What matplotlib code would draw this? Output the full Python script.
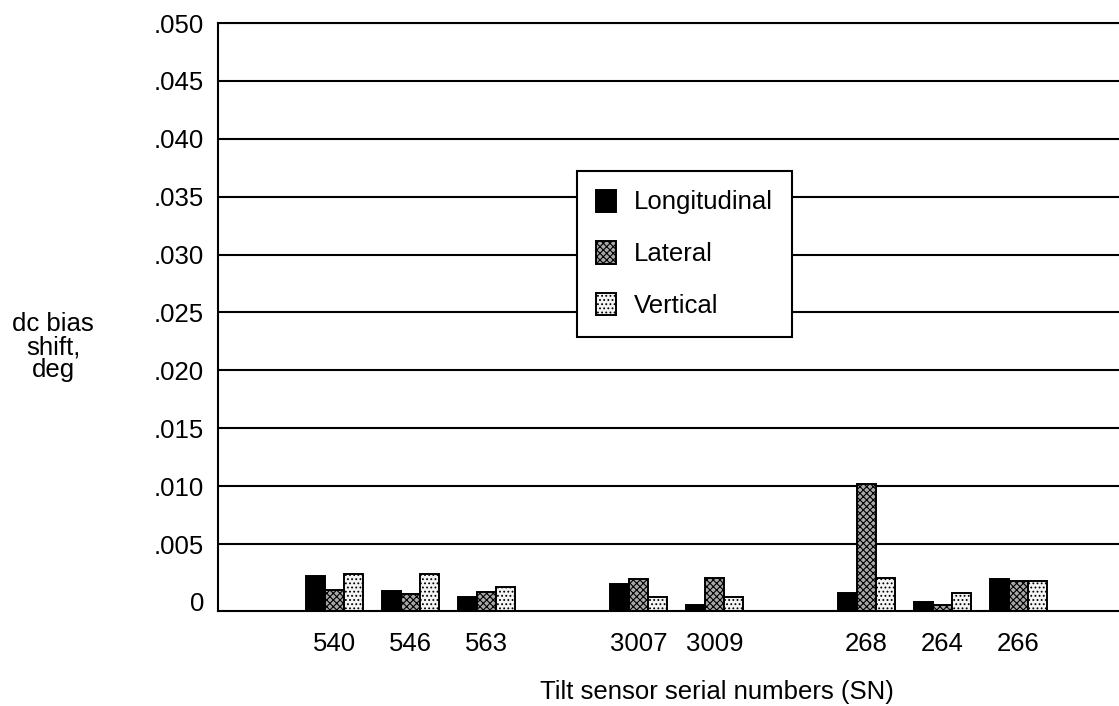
from matplotlib import pyplot as plt
from matplotlib.ticker import FuncFormatter
import numpy as np

plt.rcParams['font.family'] = ['Liberation Sans', 'DejaVu Sans']
plt.rcParams['hatch.linewidth'] = 0.8

# Tilt sensor serial numbers, in the order they are plotted.
sensors = ['540', '546', '563', '3007', '3009', '268', '264', '266']
longitudinal = [0.00305, 0.00173, 0.00124, 0.00233, 0.00049, 0.00153, 0.00075, 0.00274]
lateral = [0.00181, 0.00150, 0.00161, 0.00279, 0.00288, 0.01097, 0.00052, 0.00259]
vertical = [0.00320, 0.00320, 0.00205, 0.00118, 0.00118, 0.00288, 0.00153, 0.00259]
y_ticks = [0, 0.005, 0.010, 0.015, 0.020, 0.025, 0.030, 0.035, 0.040, 0.045, 0.050]

# Layout: groups sit on a slot grid with empty slots between sensor families.
slots = np.array([0, 1, 2, 4, 5, 7, 8, 9])
width = 0.25
base = -0.00078  # drawn baseline sits a little below the "0" tick

fig = plt.figure(figsize=(11.19, 7.06), dpi=100)
ax = fig.add_axes([218 / 1119, 95 / 706, 1 - 218 / 1119, (611 - 23) / 706])

styles = [
    ('Longitudinal', longitudinal, dict(facecolor='black', hatch=None)),
    ('Lateral', lateral, dict(facecolor='#a8a8a8', hatch='xxxxx')),
    ('Vertical', vertical, dict(facecolor='#f4f4f4', hatch='....')),
]
for i, (name, vals, st) in enumerate(styles):
    ax.bar(slots + (i - 1) * width, vals, width, bottom=base, label=name,
           edgecolor='black', linewidth=1.4, **st)

ax.set_xlim(-1.533, 10.322)
ax.set_ylim(base, 0.050)
ax.set_yticks(y_ticks)
ax.yaxis.set_major_formatter(FuncFormatter(lambda v, p: '0' if v == 0 else f'{v:.3f}'.lstrip('0')))
ax.set_xticks(slots)
ax.set_xticklabels(sensors)
ax.tick_params(axis='both', length=0, labelsize=18.5)
ax.tick_params(axis='y', pad=10)
ax.tick_params(axis='x', pad=15)

ax.set_axisbelow(True)
ax.grid(axis='y', color='black', linewidth=1.5)
ax.yaxis.get_gridlines()[0].set_visible(False)
ax.grid(axis='x', visible=False)
for side in ['left', 'bottom', 'top']:
    ax.spines[side].set_linewidth(1.5)
ax.spines['right'].set_visible(False)

leg = ax.legend(loc='upper left', bbox_to_anchor=(577 / 1119, (706 - 171) / 706),
                bbox_transform=fig.transFigure, borderaxespad=0, fontsize=18.5,
                fancybox=False, shadow=False, framealpha=1, edgecolor='black',
                borderpad=0.72, labelspacing=1.05, handlelength=0.78,
                handleheight=0.95, handletextpad=0.72)
leg.get_frame().set_linewidth(1.5)

fig.text(53 / 1119, (706 - 347) / 706, 'dc bias\nshift,\ndeg', ha='center', va='center',
         fontsize=18.5, linespacing=0.95)
fig.text(717 / 1119, (706 - 692) / 706, 'Tilt sensor serial numbers (SN)', ha='center',
         va='center', fontsize=18.5)

fig.savefig('out.png', dpi=100, facecolor='white')
